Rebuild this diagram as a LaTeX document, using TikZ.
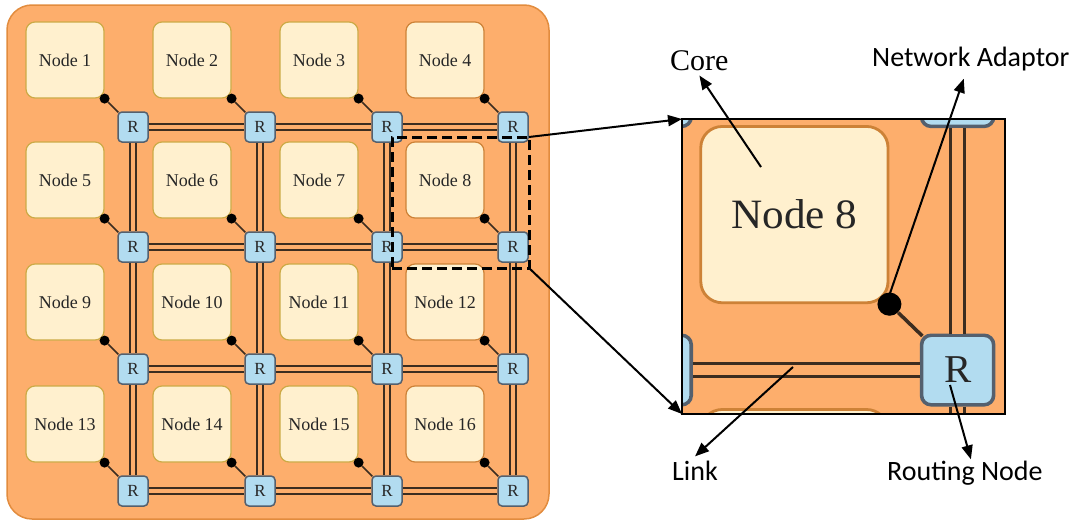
\documentclass[tikz,border=0pt]{standalone}
\usepackage{fontspec}
\setmainfont{Liberation Serif}
\newfontfamily\calibrifont{Carlito}
\usetikzlibrary{arrows.meta}

\definecolor{meshbg}{RGB}{253,174,108}
\definecolor{meshedge}{RGB}{226,140,62}
\definecolor{corefill}{RGB}{255,240,206}
\definecolor{goldedge}{RGB}{204,170,70}
\definecolor{brownedge}{RGB}{205,130,55}
\definecolor{rfill}{RGB}{178,220,240}
\definecolor{redge}{RGB}{84,96,110}
\definecolor{linkc}{RGB}{60,45,32}

\tikzset{
 outerbox/.style={fill=meshbg, draw=meshedge, line width=1.5pt, rounded corners=25pt},
 corebox/.style={rectangle, rounded corners=9pt, fill=corefill, line width=1.2pt,
   minimum width=78pt, minimum height=76pt, inner sep=0pt,
   font=\fontsize{18pt}{20pt}\selectfont, text=black!85},
 router/.style={rectangle, rounded corners=4pt, fill=rfill, draw=redge, line width=1.5pt,
   minimum size=30pt, inner sep=0pt, font=\fontsize{17pt}{18pt}\selectfont, text=black!85},
 adot/.style={circle, fill=black, minimum size=10pt, inner sep=0pt},
 link/.style={draw=linkc, line width=1.3pt, double=meshbg, double distance=4.6pt},
 adapt/.style={draw=linkc, line width=1.5pt, shorten >=-1.5pt},
 ann/.style={draw=black, line width=2pt, -{Triangle[length=14pt,width=11pt]}},
 lbl/.style={inner sep=0pt, anchor=base west},
 dashbox/.style={draw=black, line width=3pt, dash pattern=on 10pt off 5pt,
   minimum width=137pt, minimum height=131pt, inner sep=0pt, outer sep=0pt},
 zoombox/.style={draw=black, line width=2pt, minimum width=323pt, minimum height=295pt,
   inner sep=0pt, outer sep=0pt},
}

% #1 = name prefix, #2 = 0: all texts; otherwise only the texts of tile 8
\newcommand\drawmesh[2]{%
 \draw[outerbox] (7,5) rectangle (549,519);
 \foreach \rowi/\yy in {0/127,1/247,2/369,3/491}{
   \foreach \coli/\xx/\bcol in {0/133/goldedge,1/260/goldedge,2/387/goldedge,3/513/brownedge}{
     \pgfmathtruncatemacro\idx{4*\rowi+\coli+1}
     \def\ntext{\raisebox{-1.5pt}{Node \idx}}\def\rtext{R}%
     \ifnum#2=0 \else\ifnum\idx=8 \else\def\ntext{}\def\rtext{}\fi\fi
     \node[router] (#1r\idx) at (\xx,\yy) {\rtext};
     \node[corebox, draw=\bcol] (#1n\idx) at (\xx-68,\yy-67) {\ntext};
     \node[adot] (#1d\idx) at (#1n\idx.south east) {};
   }}
 \foreach \idx in {1,...,16}{
   \pgfmathtruncatemacro\colj{mod(\idx-1,4)}
   \pgfmathtruncatemacro\nxt{\idx+1}
   \pgfmathtruncatemacro\dwn{\idx+4}
   \ifnum\colj<3 \draw[link] (#1r\idx.east) -- (#1r\nxt.west);\fi
   \ifnum\idx<13 \draw[link] (#1r\idx.south) -- (#1r\dwn.north);\fi
   \draw[adapt] (#1d\idx) -- (#1r\idx.north west);
 }%
}

\begin{document}
\begin{tikzpicture}[x=1pt,y=-1pt]
\useasboundingbox (0,0) rectangle (1081,522);
\drawmesh{}{0}
\node[dashbox] (db) at (460.5,202.5) {};
\begin{scope}
  \clip (682,119) rectangle (1005,414);
  \begin{scope}[transform canvas={shift={(-273.6,-203)},xscale=2.4,yscale=2.32}]
    \drawmesh{z}{1}
  \end{scope}
\end{scope}
\node[zoombox] (zb) at (843.5,266.5) {};
\draw[ann] (db.north east) -- (zb.north west);
\draw[ann] (db.south east) -- (zb.south west);

\node[lbl, font=\fontsize{30pt}{32pt}\selectfont] (corelbl) at (670,70) {Core};
\node[lbl, font=\calibrifont\fontsize{28pt}{30pt}\selectfont] (nalbl) at (872,66) {Network Adaptor};
\node[lbl, font=\calibrifont\fontsize{28pt}{30pt}\selectfont] (linklbl) at (672,480) {Link};
\node[lbl, font=\calibrifont\fontsize{28pt}{30pt}\selectfont] (rnlbl) at (887,480) {Routing Node};

\coordinate (coresrc) at (761,167);
\coordinate (nasrc) at (887,302);
\coordinate (linksrc) at (793,367);
\coordinate (rnsrc) at (950,385);

\draw[ann] (coresrc) -- ([yshift=-5pt]corelbl.south);
\draw[ann] (nasrc) -- ([xshift=-7pt,yshift=-8pt]nalbl.south);
\draw[ann] (linksrc) -- ([yshift=4pt]linklbl.north);
\draw[ann] (rnsrc) -- ([xshift=6pt,yshift=1pt]rnlbl.north);
\end{tikzpicture}
\end{document}
